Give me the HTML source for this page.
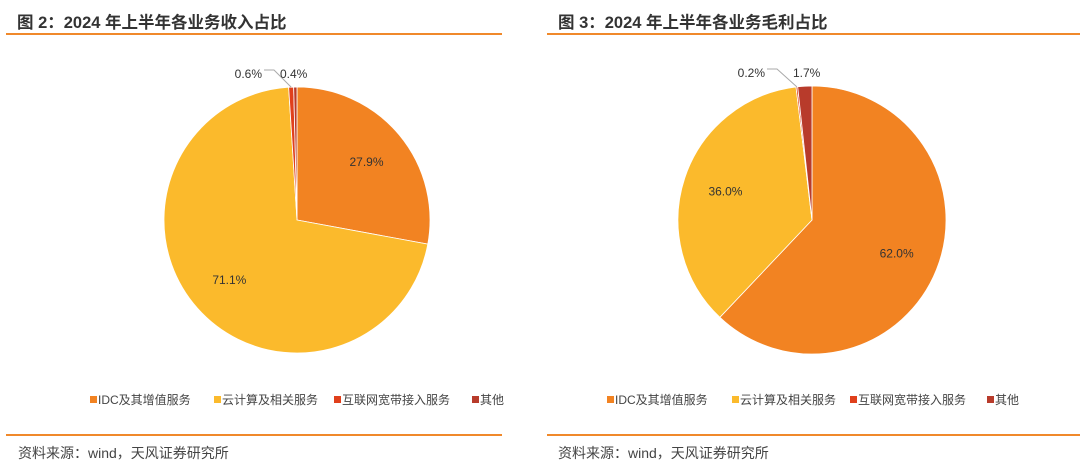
<!DOCTYPE html>
<html><head><meta charset="utf-8"><style>
body{margin:0;width:1080px;height:465px;background:#fff;font-family:"Liberation Sans","Noto Sans CJK SC",sans-serif;overflow:hidden;position:relative}
.t{position:absolute;font-size:16.5px;font-weight:bold;color:#333;top:9px}
.ln{position:absolute;height:2px;background:#F0892B}
.src{position:absolute;top:443px;font-size:14px;color:#444}
</style></head><body>
<div class="t" style="left:17px">图 2：2024 年上半年各业务收入占比</div>
<div class="ln" style="left:6px;width:496px;top:33px"></div>
<div class="t" style="left:558px">图 3：2024 年上半年各业务毛利占比</div>
<div class="ln" style="left:547px;width:533px;top:33px"></div>
<div class="ln" style="left:6px;width:496px;top:434px"></div>
<div class="ln" style="left:547px;width:533px;top:434px"></div>
<div class="src" style="left:18px">资料来源：wind，天风证券研究所</div>
<div class="src" style="left:558px">资料来源：wind，天风证券研究所</div>
<svg id="svg" width="1080" height="465" style="position:absolute;left:0;top:0" font-family="Liberation Sans, Noto Sans CJK SC, sans-serif"></svg>
<script>
const categories=["IDC及其增值服务","云计算及相关服务","互联网宽带接入服务","其他"];
const colors=["#F28322","#FBBA2C","#E0401C","#B83B2B"];
const revenueValues=[27.9,71.1,0.6,0.4];
const profitValues=[62.0,36.0,0.2,1.7];
const svg=document.getElementById('svg');
const NS='http://www.w3.org/2000/svg';
function mk(t,a){const e=document.createElementNS(NS,t);for(const k in a)e.setAttribute(k,a[k]);svg.appendChild(e);return e;}
function pie(cx,cy,r,vals,prefix,legendX,smallOff){
  const tot=vals.reduce((a,b)=>a+b,0);let a0=0;
  vals.forEach((v,i)=>{
    const a1=a0+v/tot*2*Math.PI;
    const p=(a)=>[cx+r*Math.sin(a),cy-r*Math.cos(a)];
    const [x0,y0]=p(a0),[x1,y1]=p(a1);
    const el=mk('path',{d:`M${cx},${cy}L${x0},${y0}A${r},${r} 0 ${a1-a0>Math.PI?1:0} 1 ${x1},${y1}Z`,fill:colors[i],stroke:'#fff','stroke-width':0.8});
    
    
    const m=(a0+a1)/2;let lx,ly,anchor='middle';
    if(v>5){lx=cx+r*0.68*Math.sin(m);ly=cy-r*0.68*Math.cos(m);}
    else{
      ly=cy-r-13;
      if(i===2){lx=cx+smallOff[0];anchor='end';
        mk('polyline',{points:`${cx+r*Math.sin(m)},${cy-r*Math.cos(m)} ${cx+smallOff[0]+12},${ly-4} ${lx+2},${ly-4}`,fill:'none',stroke:'#aaa','stroke-width':1});}
      else{lx=cx+smallOff[1];anchor='start';}
    }
    const t=mk('text',{x:lx,y:ly+4,'font-size':12,fill:'#333','text-anchor':anchor});
    t.textContent=v.toFixed(1)+'%';
    
    
    a0=a1;
  });
  legendX.forEach((x,i)=>{
    const s=mk('rect',{x:x,y:396,width:7,height:7,fill:colors[i]});
    
    
    const t=mk('text',{x:x+8,y:404,'font-size':12,fill:'#444'});
    t.textContent=categories[i];
    
    
  });
}
pie(297,220,133,revenueValues,'revenue',[90,214,334,472],[-35,-17]);
pie(812,220,134,profitValues,'profit',[607,732,850,987],[-47,-19]);
</script>
</body></html>
